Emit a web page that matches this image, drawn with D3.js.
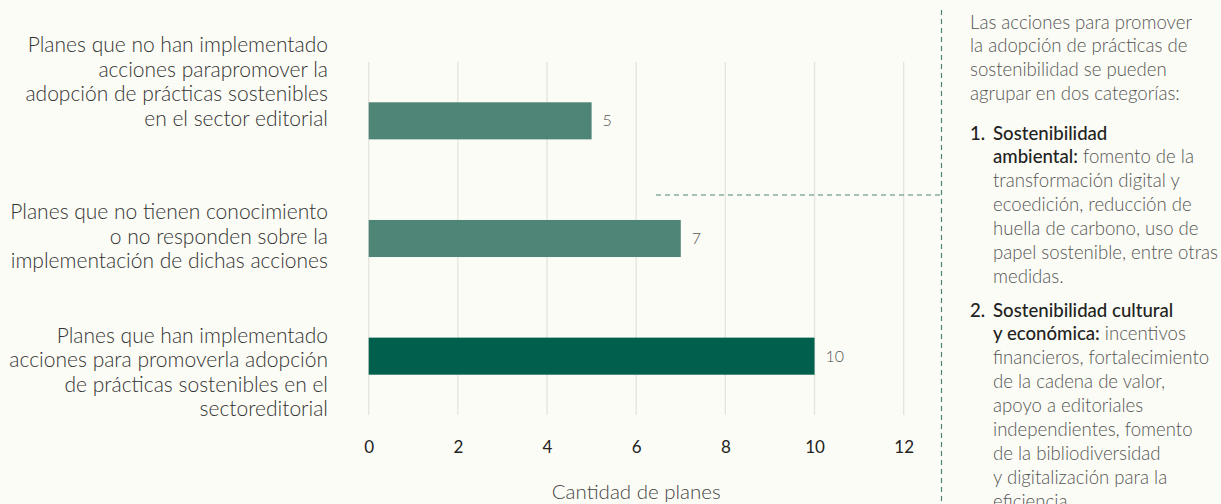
<!DOCTYPE html>
<html>
<head>
<meta charset="utf-8">
<script src="https://cdn.jsdelivr.net/npm/d3@7"></script>
<style>
  html, body { margin: 0; padding: 0; background: #fcfcf6; }
  svg { display: block; }
  text { font-family: Lato, sans-serif; }
</style>
</head>
<body>
<svg id="chart" width="1221" height="504"></svg>
<script>
// datos
var categorias = [
    ["Planes que no han implementado", "acciones parapromover la", "adopción de prácticas sostenibles", "en el sector editorial"],
    ["Planes que no tienen conocimiento", "o no responden sobre la", "implementación de dichas acciones"],
    ["Planes que han implementado", "acciones para promoverla adopción", "de prácticas sostenibles en el", "sectoreditorial"]
];
var valores = [5, 7, 10];
var ticks_x = [0, 2, 4, 6, 8, 10, 12];
var titulo_x = "Cantidad de planes";

var nota_intro = ["Las acciones para promover", "la adopción de prácticas de", "sostenibilidad se pueden", "agrupar en dos categorías:"];
var nota_item1 = [[["Sostenibilidad", true]], [["ambiental:", true], [" fomento de la", false]], [["transformación digital y", false]],
    [["ecoedición, reducción de", false]], [["huella de carbono, uso de", false]], [["papel sostenible, entre otras", false]], [["medidas.", false]]];
var nota_item2 = [[["Sostenibilidad cultural", true]], [["y económica:", true], [" incentivos", false]], [["financieros, fortalecimiento", false]],
    [["de la cadena de valor,", false]], [["apoyo a editoriales", false]], [["independientes, fomento", false]], [["de la bibliodiversidad", false]],
    [["y digitalización para la", false]], [["eficiencia.", false]]];

var svg = d3.select("#chart");

// ESCALAS
var x = d3.scaleLinear().domain([0, 12]).range([368.7, 903.7]);
var y = d3.scaleBand().domain(d3.range(valores.length)).range([62, 415]).paddingInner(0.685).paddingOuter(0.3425);

// GRID
svg.append("g").selectAll("line").data(ticks_x).join("line")
    .attr("x1", d => x(d)).attr("x2", d => x(d))
    .attr("y1", 62).attr("y2", 415)
    .attr("stroke", "#e4e3dd").attr("stroke-width", 1.3);

// EJE X
var eje = svg.append("g").attr("transform", "translate(0,415)")
    .call(d3.axisBottom(x).tickValues(ticks_x).tickSize(0).tickPadding(26));
eje.select(".domain").remove();
eje.attr("font-family", null).attr("font-size", null);
eje.selectAll("text").attr("font-size", "17px").attr("fill", "#222").attr("font-weight", 400);

svg.append("text").text(titulo_x)
    .attr("x", x(6)).attr("y", 499)
    .attr("text-anchor", "middle").attr("font-size", "20.5px").attr("fill", "#444").attr("font-weight", 300);

// BARRAS
svg.append("g").selectAll("rect").data(valores).join("rect")
    .attr("x", x(0)).attr("y", (d, i) => y(i))
    .attr("width", d => x(d) - x(0)).attr("height", y.bandwidth())
    .attr("fill", (d, i) => i == 2 ? "#015f4d" : "#4e8577");

svg.append("g").selectAll("text").data(valores).join("text")
    .text(d => d)
    .attr("x", d => x(d) + 11).attr("y", (d, i) => y(i) + y.bandwidth() / 2)
    .attr("dy", "0.35em").attr("font-size", "16px").attr("fill", "#555").attr("font-weight", 300);

// ETIQUETAS CATEGORIAS
var desplaz = [-39, -2, 16];
var altoLinea = 24.6;
categorias.forEach(function (lineas, i) {
    var centro = y(i) + y.bandwidth() / 2 + desplaz[i];
    var t = svg.append("text").attr("text-anchor", "end").attr("font-size", "21px").attr("fill", "#333").attr("font-weight", 300);
    lineas.forEach(function (l, j) {
        t.append("tspan").attr("x", 328)
            .attr("y", centro + (j - (lineas.length - 1) / 2) * altoLinea)
            .attr("dy", "0.35em").text(l);
    });
});

// LINEAS PUNTEADAS
svg.append("line").attr("x1", 941.5).attr("x2", 941.5).attr("y1", 10).attr("y2", 504)
    .attr("stroke", "#4e8577").attr("stroke-width", 1.2).attr("stroke-dasharray", "5,4");
svg.append("line").attr("x1", 656).attr("x2", 941.5).attr("y1", 195).attr("y2", 195)
    .attr("stroke", "#4e8577").attr("stroke-width", 1.2).attr("stroke-dasharray", "5,4");

// NOTA
var notaX = 970, itemX = 993, linea = 23.9, fNota = "18.6px";
var intro = svg.append("text").attr("font-size", fNota).attr("fill", "#555").attr("font-weight", 300);
nota_intro.forEach(function (l, j) {
    intro.append("tspan").attr("x", notaX).attr("y", 22 + j * linea).attr("dy", "0.35em").text(l);
});

function item(num, lineas, y0) {
    svg.append("text").text(num).attr("x", notaX).attr("y", y0).attr("dy", "0.35em")
        .attr("font-size", fNota).attr("fill", "#222").attr("font-weight", 500);
    lineas.forEach(function (partes, j) {
        var t = svg.append("text").attr("x", itemX).attr("y", y0 + j * linea).attr("dy", "0.35em").attr("font-size", fNota);
        partes.forEach(function (p) {
            t.append("tspan").text(p[0])
                .attr("fill", p[1] ? "#222" : "#555")
                .attr("font-weight", p[1] ? 500 : 300);
        });
    });
}
item("1.", nota_item1, 133);
item("2.", nota_item2, 310);
</script>
</body>
</html>
